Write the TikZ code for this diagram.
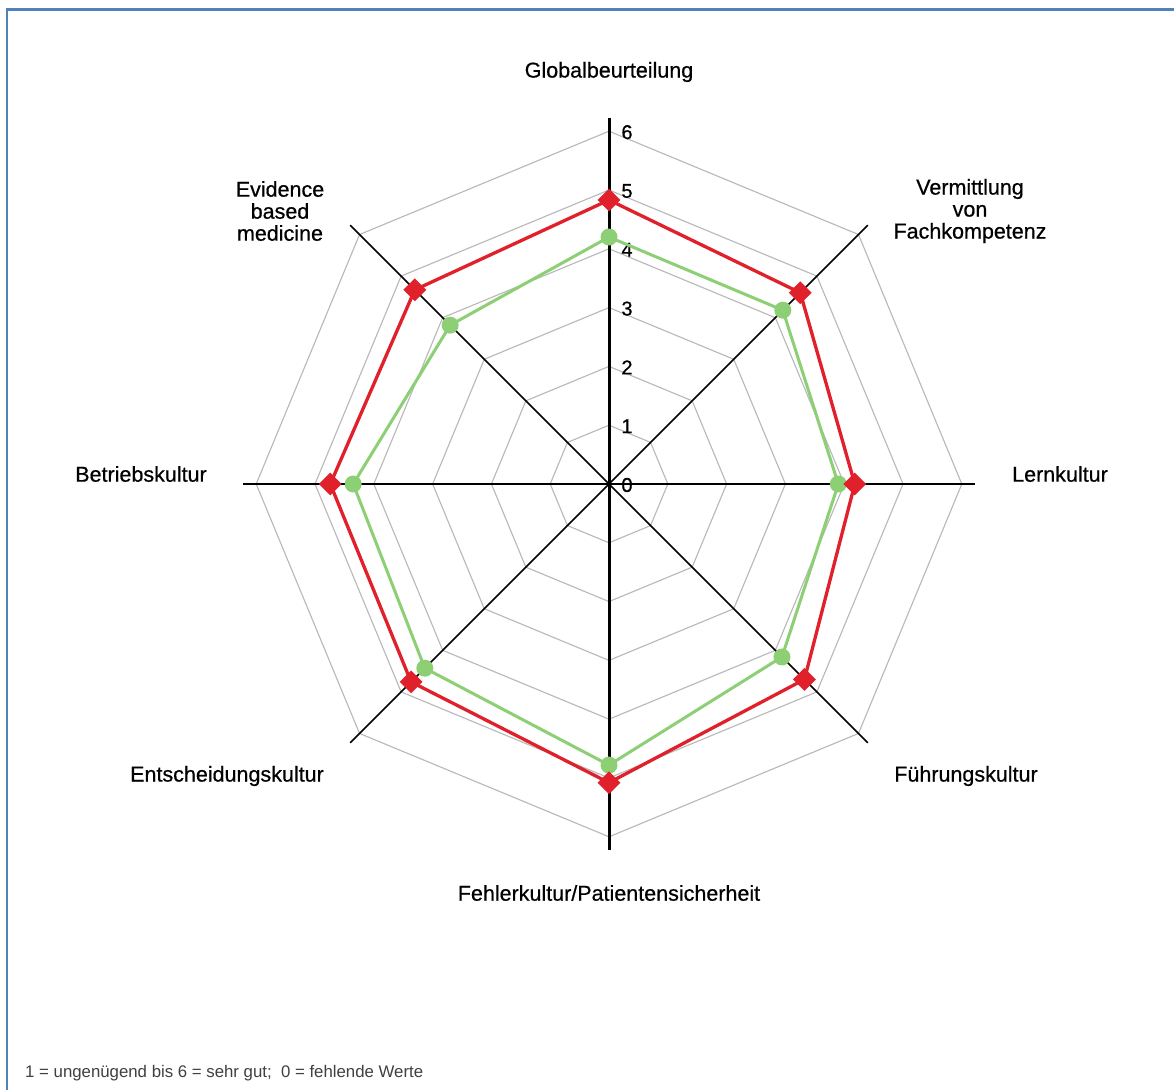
\documentclass[tikz,border=0pt]{standalone}
\usepackage{fontspec}
\setmainfont{Liberation Sans}
\newfontfamily\lblfont{Liberation Sans}[FakeBold=0.6]
\usetikzlibrary{shapes.geometric}
\definecolor{frameblue}{HTML}{4F81BD}
\definecolor{gridgray}{HTML}{B8B8B8}
\definecolor{serred}{HTML}{E0202A}
\definecolor{sergreen}{HTML}{8CCF74}
\definecolor{footgray}{HTML}{404040}
\begin{document}
\begin{tikzpicture}[x=1pt,y=1pt,
  lbl/.style={font=\lblfont\fontsize{21.5}{22}\selectfont, align=center, text=black, inner sep=0pt},
  ticklbl/.style={font=\lblfont\fontsize{20}{20}\selectfont, text=black, inner sep=0pt},
  footlbl/.style={font=\fontsize{16.8}{17}\selectfont, text=footgray, inner sep=0pt, anchor=west},
  gridline/.style={draw=gridgray, line width=1.1pt},
  axisline/.style={draw=black, line width=1.6pt},
  rmark/.style={shape=diamond, fill=serred, minimum size=23pt, inner sep=0pt},
  gmark/.style={shape=circle, fill=sergreen, minimum size=17pt, inner sep=0pt},
  rline/.style={draw=serred, line width=3.3pt, line join=miter},
  gline/.style={draw=sergreen, line width=3pt, line join=miter}]
\path[use as bounding box, fill=white] (0,0) rectangle (1174,1090);
\draw[frameblue, line width=2.4pt] (7,0) -- (7,1080.5) -- (1174,1080.5);

\begin{scope}[shift={(609,606)}]
  \def\u{58.8}
  % grid octagons
  \foreach \r in {1,...,6}{
    \draw[gridline] (0:\r*\u) \foreach \a in {45,90,...,315}{ -- (\a:\r*\u)} -- cycle;
  }
  % axes
  \coordinate (c) at (0,0);
  \foreach \i/\a in {1/90,2/45,3/0,4/-45,5/-90,6/-135,7/180,8/135}{
    \coordinate (ax\i) at (\a:366);
  }
  \draw[axisline] (c) -- (ax2);
  \draw[axisline] (c) -- (ax4);
  \draw[axisline] (c) -- (ax6);
  \draw[axisline] (c) -- (ax8);
  \draw[axisline, line width=2.2pt] (ax7) -- (ax3);
  \draw[axisline, line width=3pt] (ax1) -- (ax5);
  % tick labels
  \foreach \k in {0,...,6}{
    \node[ticklbl] (t\k) at (18,\k*\u-1) {\k};
  }
  % green series
  \foreach \i/\a/\v in {1/90/4.2,2/45/4.18,3/0/3.9,4/-45/4.16,5/-90/4.78,6/-135/4.43,7/180/4.35,8/135/3.82}{
    \coordinate (gp\i) at (\a:{\v*\u});
  }
  \draw[gline] (gp1) -- (gp2) -- (gp3) -- (gp4) -- (gp5) -- (gp6) -- (gp7) -- (gp8) -- cycle;
  \foreach \i in {1,...,8}{ \node[gmark] (g\i) at (gp\i) {}; }
  % red series
  \foreach \i/\a/\v in {1/90/4.83,2/45/4.6,3/0/4.18,4/-45/4.7,5/-90/5.08,6/-135/4.76,7/180/4.74,8/135/4.67}{
    \coordinate (rp\i) at (\a:{\v*\u});
  }
  \draw[rline] (rp1) -- (rp2) -- (rp3) -- (rp4) -- (rp5) -- (rp6) -- (rp7) -- (rp8) -- cycle;
  \foreach \i in {1,...,8}{ \node[rmark] (r\i) at (rp\i) {}; }
\end{scope}

% category labels
\node[lbl] (l1) at (609,1018) {Globalbeurteilung};
\node[lbl] (l2) at (970,879) {Vermittlung\\von\\Fachkompetenz};
\node[lbl] (l3) at (1060,616) {Lernkultur};
\node[lbl] (l4) at (966,314) {Führungskultur};
\node[lbl] (l5) at (609,197) {Fehlerkultur/Patientensicherheit};
\node[lbl] (l6) at (227,314) {Entscheidungskultur};
\node[lbl] (l7) at (141,616) {Betriebskultur};
\node[lbl] (l8) at (280,879) {Evidence\\based\\medicine};

\node[footlbl] (foot) at (25,17) {1 = ungenügend bis 6 = sehr gut;\ \ 0 = fehlende Werte};
\end{tikzpicture}
\end{document}
